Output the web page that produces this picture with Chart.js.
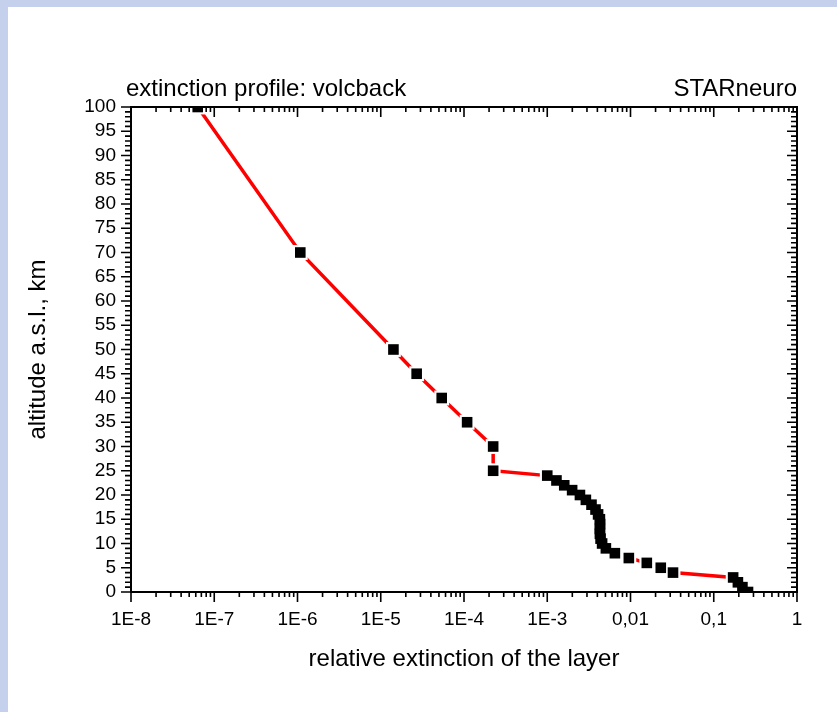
<!DOCTYPE html>
<html><head><meta charset="utf-8">
<script src="https://cdn.jsdelivr.net/npm/chart.js@4.4.0/dist/chart.umd.min.js"></script>
<style>
html,body{margin:0;padding:0;background:#fff;}
#wrap{position:relative;width:837px;height:712px;overflow:hidden;background:#fff;}
#bl{position:absolute;left:0;top:0;width:8px;height:712px;background:#c5d0ec;}
#bt{position:absolute;left:0;top:0;width:837px;height:7px;background:#c5d0ec;}
canvas{position:absolute;left:0;top:0;}
</style></head><body>
<div id="wrap"><div id="bl"></div><div id="bt"></div><canvas id="c" width="837" height="712"></canvas></div>
<script>
const altitudeKm = [100, 70, 50, 45, 40, 35, 30, 25, 24, 23, 22, 21, 20, 19, 18, 17, 16, 15, 14, 13, 12, 11, 10, 9, 8, 7, 6, 5, 4, 3, 2, 1, 0];
const relExtinction = [6.33e-8, 1.08e-6, 1.42e-5, 2.70e-5, 5.40e-5, 1.09e-4, 2.24e-4, 2.24e-4,
  1.00e-3, 1.29e-3, 1.60e-3, 1.99e-3, 2.47e-3, 2.91e-3, 3.40e-3, 3.80e-3, 4.08e-3, 4.29e-3,
  4.31e-3, 4.29e-3, 4.29e-3, 4.37e-3, 4.56e-3, 5.06e-3, 6.49e-3, 9.55e-3, 1.57e-2, 2.31e-2,
  3.24e-2, 0.171, 0.195, 0.221, 0.258];
const xTickValues = [1e-8, 1e-7, 1e-6, 1e-5, 1e-4, 1e-3, 1e-2, 1e-1, 1];
const xTickLabels = ['1E-8', '1E-7', '1E-6', '1E-5', '1E-4', '1E-3', '0,01', '0,1', '1'];
const yTickValues = [0, 5, 10, 15, 20, 25, 30, 35, 40, 45, 50, 55, 60, 65, 70, 75, 80, 85, 90, 95, 100];
const chartTitle = 'extinction profile: volcback';
const chartTag = 'STARneuro';
const xTitle = 'relative extinction of the layer';
const yTitle = 'altitude a.s.l., km';

const FONT = '"Liberation Sans", Arial, Helvetica, sans-serif';
const pts = relExtinction.map((v, i) => ({x: v, y: altitudeKm[i]}));

const framePlugin = {
  id: 'frame',
  afterDatasetsDraw(chart) {
    const {ctx, chartArea: a, scales: {x, y}} = chart;
    ctx.save();
    ctx.strokeStyle = '#000';
    ctx.lineWidth = 1.6;
    ctx.beginPath();
    const xt = (v, len) => {
      const p = x.getPixelForValue(v);
      ctx.moveTo(p, a.bottom); ctx.lineTo(p, a.bottom + len);
      ctx.moveTo(p, a.top); ctx.lineTo(p, a.top + len);
    };
    const yt = (v, len) => {
      const p = y.getPixelForValue(v);
      ctx.moveTo(a.left, p); ctx.lineTo(a.left - len, p);
      ctx.moveTo(a.right, p); ctx.lineTo(a.right - len, p);
    };
    xTickValues.forEach((v, i) => {
      xt(v, 10);
      if (i < xTickValues.length - 1) {
        for (let k = 2; k <= 9; k++) xt(v * k, 5);
      }
    });
    const yMax = yTickValues[yTickValues.length - 1];
    for (let h = 0; h <= yMax; h++) {
      if (yTickValues.includes(h)) yt(h, 10); else yt(h, 6);
    }
    ctx.stroke();
    ctx.lineWidth = 2;
    ctx.strokeRect(a.left, a.top, a.right - a.left, a.bottom - a.top);
    ctx.restore();
  },
  afterDraw(chart) {
    const {ctx, chartArea: a} = chart;
    ctx.save();
    ctx.fillStyle = '#000';
    ctx.font = '24px ' + FONT;
    ctx.textBaseline = 'alphabetic';
    ctx.textAlign = 'left';
    ctx.fillText(chartTitle, a.left - 5, 96);
    ctx.textAlign = 'right';
    ctx.fillText(chartTag, a.right, 96);
    ctx.restore();
  }
};

new Chart(document.getElementById('c'), {
  type: 'line',
  data: {
    datasets: [
      {data: pts, showLine: false, pointStyle: 'rect', pointRadius: 7.5, pointBackgroundColor: '#000', pointBorderWidth: 0, clip: 0},
      {data: pts, showLine: false, pointStyle: 'rect', pointRadius: 10.5, pointBackgroundColor: '#fff', pointBorderWidth: 0, clip: 0},
      {data: pts, borderColor: '#ff0000', borderWidth: 3.5, pointRadius: 0, tension: 0, fill: false, clip: 0}
    ]
  },
  options: {
    responsive: false,
    animation: false,
    devicePixelRatio: 1,
    events: [],
    layout: {padding: {top: 107, right: 40, left: 0, bottom: 0}},
    plugins: {legend: {display: false}, tooltip: {enabled: false}, title: {display: false}},
    scales: {
      x: {
        type: 'logarithmic', min: 1e-8, max: 1,
        afterBuildTicks: s => { s.ticks = xTickValues.map(v => ({value: v})); },
        afterFit: s => { s.height = 120; },
        grid: {display: false, drawTicks: false},
        border: {display: false},
        ticks: {autoSkip: false, maxRotation: 0, padding: 16, color: '#000',
          font: {family: FONT, size: 19},
          callback: (v, i) => xTickLabels[i]},
        title: {display: true, text: xTitle, color: '#000', font: {family: FONT, size: 24}, padding: {top: 0, bottom: 38}}
      },
      y: {
        type: 'linear', min: 0, max: 100,
        afterBuildTicks: s => { s.ticks = yTickValues.map(v => ({value: v})); },
        afterFit: s => { s.width = 131; },
        grid: {display: false, drawTicks: false},
        border: {display: false},
        ticks: {autoSkip: false, padding: 15, color: '#000', font: {family: FONT, size: 19},
          callback: v => String(v)},
        title: {display: true, text: yTitle, color: '#000', font: {family: FONT, size: 24}, padding: {top: 24, bottom: 0}}
      }
    }
  },
  plugins: [framePlugin]
});
</script>
</body></html>
